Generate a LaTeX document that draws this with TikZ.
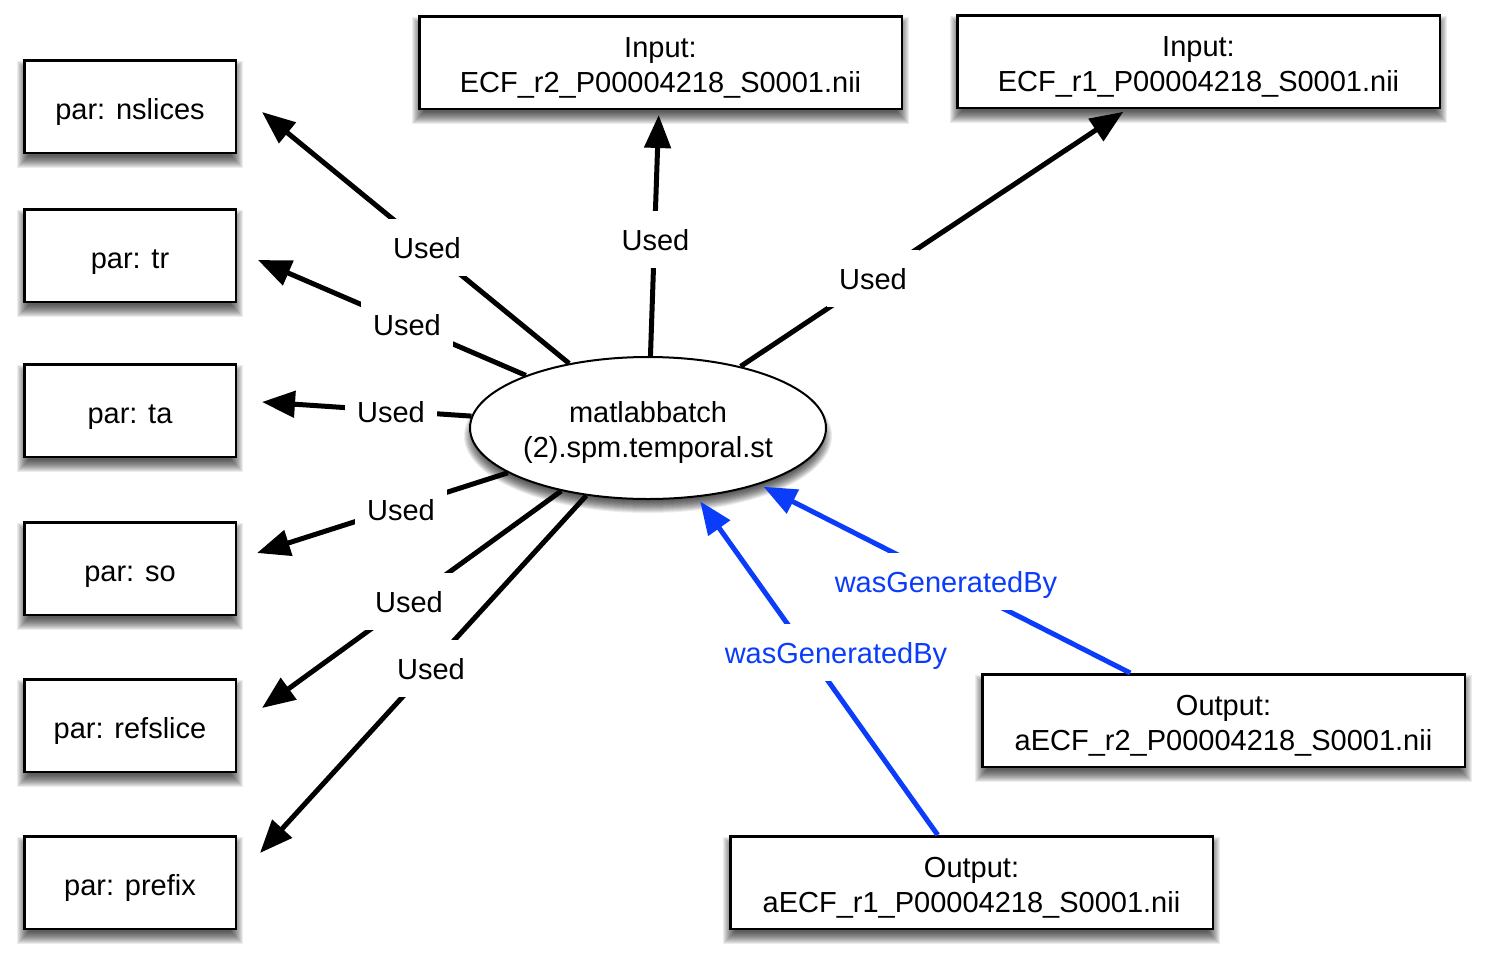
\documentclass[tikz,border=0pt]{standalone}
\usepackage{fontspec}
\setmainfont{Liberation Sans}
\usetikzlibrary{arrows.meta,shapes.geometric,calc}
\pgfdeclarelayer{background}
\pgfsetlayers{background,main}
\definecolor{wgbblue}{RGB}{10,60,250}
\newcommand\twol[2]{\raisebox{0pt}[30pt][0pt]{#1}\\\raisebox{0pt}[20pt][6pt]{#2}}
\newcommand\bshadow[1]{\foreach \e in {-6,...,6}{\fill[black,opacity=0.075] ($(#1.south west)+(-\e,8+\e)$) rectangle ($(#1.north east)+(\e,8-\e)$);}}
\begin{document}
\begin{tikzpicture}[x=1pt,y=-1pt,
  fs/.style={font={\fontsize{29}{35}\selectfont}},
  pbox/.style={draw,line width=2.5pt,fill=white,minimum width=211.5pt,minimum height=92.5pt,inner sep=0pt,fs,text height=25pt,text depth=0pt},
  fbox/.style={draw,line width=2.5pt,fill=white,minimum width=482.5pt,minimum height=92.5pt,inner sep=0pt,fs,align=center},
  act/.style={ellipse,draw,line width=2pt,fill=white,minimum width=356pt,minimum height=142pt,inner sep=0pt,fs,align=center},
  used/.style={line width=5pt,-{Triangle[length=33pt,width=26pt]}},
  gen/.style={used,draw=wgbblue,fill=wgbblue},
  lbl/.style={fill=white,inner xsep=12pt,inner ysep=18pt,text height=21pt,text depth=0pt,fs},
  glbl/.style={lbl,text=wgbblue}]
\useasboundingbox (0,0) rectangle (1489,962);
% nodes
\node[pbox] (nsl) at (130,106.5) {par: nslices};
\node[pbox] (tr) at (130,255.5) {par: tr};
\node[pbox] (ta) at (130,410.5) {par: ta};
\node[pbox] (so) at (130,568.5) {par: so};
\node[pbox] (ref) at (130,725.5) {par: refslice};
\node[pbox] (pre) at (130,882.5) {par: prefix};
\node[fbox] (in2) at (660.5,62.5) {\twol{Input:}{ECF\_r2\_P00004218\_S0001.nii}};
\node[fbox] (in1) at (1198.5,61.5) {\twol{Input:}{ECF\_r1\_P00004218\_S0001.nii}};
\node[fbox] (out2) at (1223.5,720.5) {\twol{Output:}{aECF\_r2\_P00004218\_S0001.nii}};
\node[fbox] (out1) at (971.5,882.5) {\twol{Output:}{aECF\_r1\_P00004218\_S0001.nii}};
\node[act] (m) at (648,428) {\twol{matlabbatch}{(2).spm.temporal.st}};
% arrow tips near the parameter boxes
\coordinate (t1) at (262,112);
\coordinate (t2) at (258,260);
\coordinate (t3) at (262,402);
\coordinate (t4) at (257,553);
\coordinate (t5) at (262,708);
\coordinate (t6) at (260,853);
% edges
\draw[used] (m) -- (t1);
\draw[used] (m) -- (t2);
\draw[used] (m) -- (t3);
\draw[used] (m) -- (t4);
\draw[used] (m) -- (t5);
\draw[used] (m) -- (t6);
\draw[used,shorten >=5pt] (m) -- (in2);
\draw[used,shorten >=5pt] (m) -- (in1);
\draw[gen,shorten >=5pt] (out2) -- (m);
\draw[gen,shorten >=5pt] (out1) -- (m);
% labels
\node[lbl] (u1) at (427,247.5) {Used};
\node[lbl] (u2) at (407,324.5) {Used};
\node[lbl] (u3) at (391,411.5) {Used};
\node[lbl] (u4) at (401,509.5) {Used};
\node[lbl] (u5) at (409,601.5) {Used};
\node[lbl] (u6) at (431,668.5) {Used};
\node[lbl] (u7) at (655.5,239.5) {Used};
\node[lbl] (u8) at (873,278.5) {Used};
\node[glbl] (g1) at (946,581.5) {wasGeneratedBy};
\node[glbl] (g2) at (836,652.5) {wasGeneratedBy};
% shadows
\begin{pgfonlayer}{background}
\foreach \n in {nsl,tr,ta,so,ref,pre,in2,in1,out2,out1}{\bshadow{\n}}
\foreach \e in {-6,...,6}{
  \pgfmathsetmacro\rx{178+\e}
  \pgfmathsetmacro\ry{71+\e}
  \fill[black,opacity=0.075] ($(m.center)+(0,8)$) ellipse [x radius=\rx pt, y radius=\ry pt];
}
\end{pgfonlayer}
\end{tikzpicture}
\end{document}
